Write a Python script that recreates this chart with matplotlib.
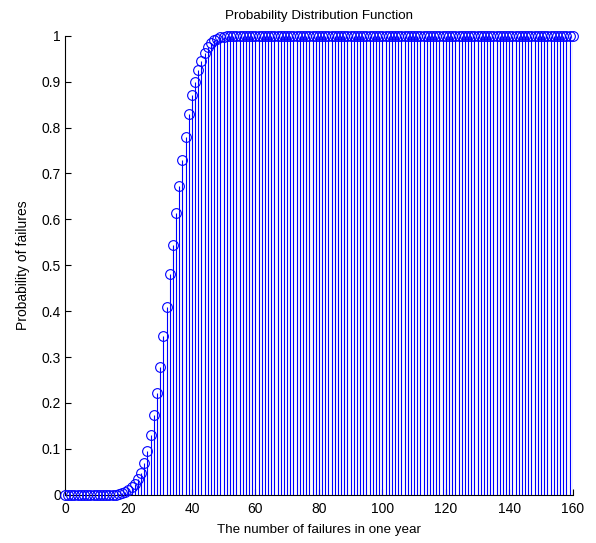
import matplotlib
matplotlib.use('Agg')
import matplotlib.pyplot as plt
import numpy as np

# number of failures in one year
failures = np.arange(0, 161)

# cumulative probability (x = 0..160)
prob = [
    0.0, 0.0, 0.0, 0.0, 0.0, 0.0, 0.0, 0.0, 0.0, 0.0,
    0.0, 0.0, 0.0, 0.0, 0.0, 0.0, 0.0, 0.001, 0.003, 0.006,
    0.010, 0.016, 0.024, 0.034, 0.047, 0.068, 0.095, 0.130, 0.174, 0.222,
    0.278, 0.345, 0.410, 0.480, 0.545, 0.613, 0.672, 0.730, 0.780, 0.830,
    0.870, 0.900, 0.925, 0.945, 0.962, 0.975, 0.984, 0.990, 0.994, 0.997,
    0.998, 0.999, 1.0, 1.0, 1.0, 1.0, 1.0, 1.0, 1.0, 1.0,
    1.0, 1.0, 1.0, 1.0, 1.0, 1.0, 1.0, 1.0, 1.0, 1.0,
    1.0, 1.0, 1.0, 1.0, 1.0, 1.0, 1.0, 1.0, 1.0, 1.0,
    1.0, 1.0, 1.0, 1.0, 1.0, 1.0, 1.0, 1.0, 1.0, 1.0,
    1.0, 1.0, 1.0, 1.0, 1.0, 1.0, 1.0, 1.0, 1.0, 1.0,
    1.0, 1.0, 1.0, 1.0, 1.0, 1.0, 1.0, 1.0, 1.0, 1.0,
    1.0, 1.0, 1.0, 1.0, 1.0, 1.0, 1.0, 1.0, 1.0, 1.0,
    1.0, 1.0, 1.0, 1.0, 1.0, 1.0, 1.0, 1.0, 1.0, 1.0,
    1.0, 1.0, 1.0, 1.0, 1.0, 1.0, 1.0, 1.0, 1.0, 1.0,
    1.0, 1.0, 1.0, 1.0, 1.0, 1.0, 1.0, 1.0, 1.0, 1.0,
    1.0, 1.0, 1.0, 1.0, 1.0, 1.0, 1.0, 1.0, 1.0, 1.0,
    1.0,
]

x_ticks = [0, 20, 40, 60, 80, 100, 120, 140, 160]
y_ticks = [0, 0.1, 0.2, 0.3, 0.4, 0.5, 0.6, 0.7, 0.8, 0.9, 1]
y_tick_labels = ['0', '0.1', '0.2', '0.3', '0.4', '0.5', '0.6', '0.7', '0.8', '0.9', '1']

plt.rcParams['font.family'] = ['Liberation Sans', 'DejaVu Sans']
plt.rcParams['font.size'] = 9

fig = plt.figure(figsize=(5.96, 5.43), dpi=100)
ax = fig.add_axes([0.109, 0.089, 0.852, 0.845])

# stem plot, matlab style
ax.vlines(failures, 0, prob, color='blue', linewidth=0.8)
ax.plot(failures, prob, 'o', color='blue', markerfacecolor='none',
        markersize=7, markeredgewidth=0.8, clip_on=False, zorder=3)

ax.set_xlim(0, 160)
ax.set_ylim(0, 1)
ax.set_xticks(x_ticks)
ax.set_yticks(y_ticks)
ax.set_yticklabels(y_tick_labels)
ax.tick_params(direction='in', length=4, width=0.8, labelsize=10)
ax.tick_params(axis='x', pad=5)
ax.tick_params(axis='y', pad=3)
ax.spines['top'].set_visible(False)
ax.spines['right'].set_visible(False)
for s in ['left', 'bottom']:
    ax.spines[s].set_linewidth(0.8)

ax.set_title('Probability Distribution Function', fontsize=9.6, pad=12)
ax.set_xlabel('The number of failures in one year', fontsize=9.6, labelpad=6)
ax.set_ylabel('Probability of failures', fontsize=10, labelpad=8)

fig.savefig('out.png', dpi=100)
